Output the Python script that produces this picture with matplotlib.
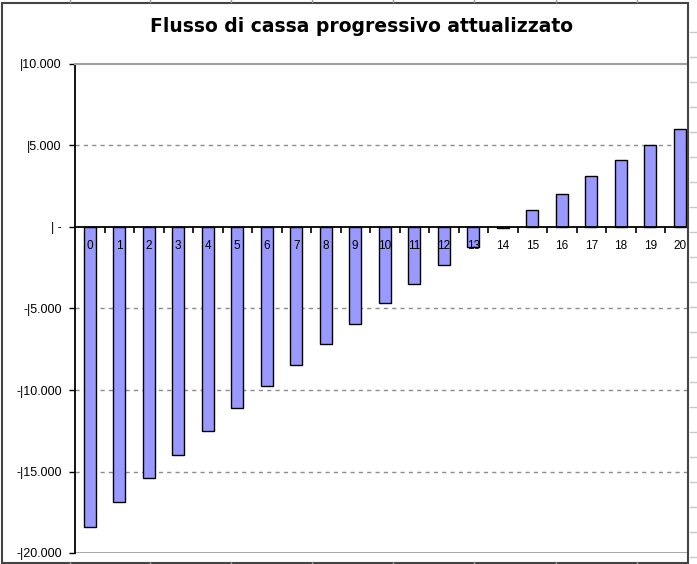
import numpy as np
import matplotlib.pyplot as plt
from matplotlib.patches import Rectangle
from matplotlib.lines import Line2D

plt.rcParams['font.family'] = ['Liberation Sans', 'DejaVu Sans']

# data
anni = list(range(21))
flusso = [-18400, -16850, -15420, -13970, -12530, -11080, -9740, -8470, -7200,
          -5950, -4660, -3500, -2310, -1250, -80, 1040, 2040, 3130, 4110, 5030, 6010]
y_ticks = [10000, 5000, 0, -5000, -10000, -15000, -20000]
y_labels = ['|10.000', '|5.000', '| -', '-|5.000', '-|10.000', '-|15.000', '-|20.000']
titolo = 'Flusso di cassa progressivo attualizzato'

W, H = 697, 564
fig = plt.figure(figsize=(W / 100, H / 100), dpi=100)

# spreadsheet frame around the chart object
fig.add_artist(Rectangle((2 / W, 1.5 / H), 686 / W, 560 / H, transform=fig.transFigure,
                         fill=False, edgecolor='#444444', lw=1.5))
for yy in np.arange(32, H, 25):
    fig.add_artist(Line2D([690 / W, 1], [1 - yy / H] * 2, transform=fig.transFigure,
                          color='#c8c8c8', lw=1))
for xx in [70, 150, 231, 312, 393, 474, 556, 637]:
    for y0, y1 in [(0, 2), (H - 2, H)]:
        fig.add_artist(Line2D([xx / W] * 2, [1 - y0 / H, 1 - y1 / H], transform=fig.transFigure,
                              color='#999999', lw=1))

ax = fig.add_axes([75 / W, 11 / H, 613 / W, 489 / H])
ax.set_ylim(-20000, 10000)
ax.set_xlim(-0.5, -0.5 + 613 / 29.5)

ax.bar(anni, flusso, width=0.42, color='#9999FF', edgecolor='black', linewidth=1, zorder=3)

for g in [5000, -5000, -10000, -15000]:
    ax.axhline(g, color='#8c8c8c', lw=1, ls=(0, (3, 3)), zorder=1)
ax.axhline(-20000, color='#a0a0a0', lw=2, zorder=2)

ax.set_yticks(y_ticks)
ax.set_yticklabels(y_labels, fontsize=9)
ax.tick_params(axis='y', direction='out', length=4, width=1, pad=5.5, colors='black')

# x axis on the zero line: boundary ticks + centred labels drawn over the bars
ax.spines['bottom'].set_position(('data', 0))
ax.spines['bottom'].set_zorder(4)
ax.spines['bottom'].set_linewidth(1.3)
ax.set_xticks(np.arange(0.5, 20.5, 1))
ax.set_xticklabels([])
ax.tick_params(axis='x', which='major', direction='out', length=4, width=1.2)
for a in anni:
    ax.annotate(str(a), (a, 0), xytext=(0, -14), textcoords='offset points',
                ha='center', va='center', fontsize=8.5, zorder=5, annotation_clip=False)

ax.spines['left'].set_linewidth(1.3)
ax.spines['top'].set_color('#a0a0a0')
ax.spines['top'].set_linewidth(1.5)
ax.spines['right'].set_visible(False)

fig.text(362 / W, 1 - 27 / H, titolo, ha='center', va='center', fontsize=13.5,
         fontweight='bold', family='DejaVu Sans')

fig.savefig('out.png', dpi=100)
